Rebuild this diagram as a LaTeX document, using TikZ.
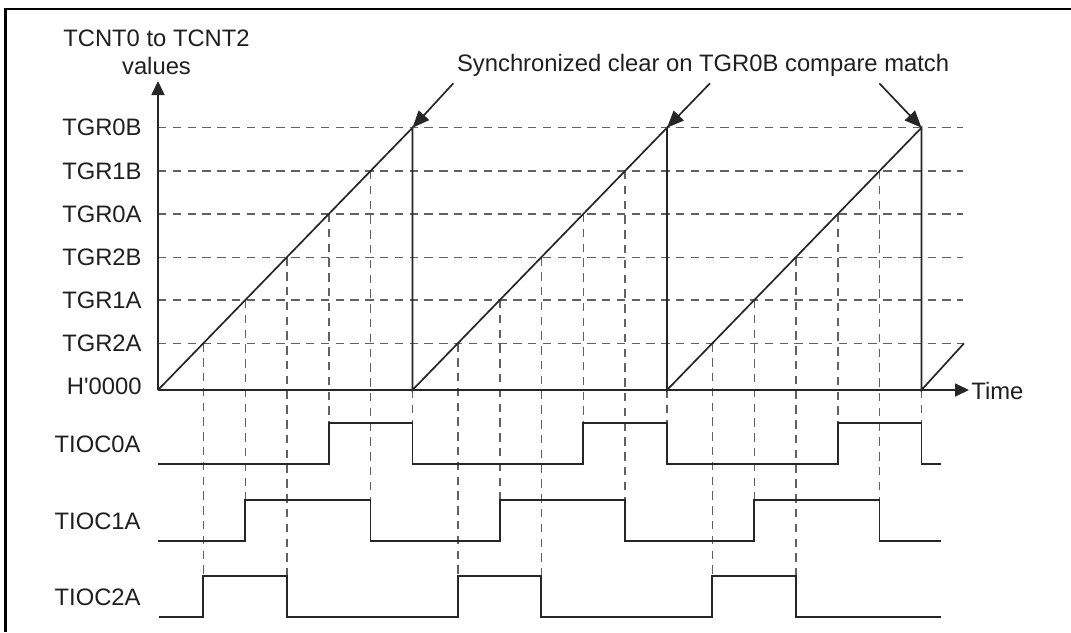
\documentclass[tikz,border=0pt]{standalone}
\usepackage{fontspec}
\setmainfont{Liberation Sans}
\usetikzlibrary{arrows.meta}
\begin{document}
\begin{tikzpicture}[x=0.5pt,y=-0.5pt,
  lbl/.style={font=\fontsize{11.9}{14}\selectfont, inner sep=0pt, text=black!88},
  gridline/.style={draw=black!62, line width=0.7pt, dash pattern=on 4.2pt off 3.2pt},
  sig/.style={draw=black!85, line width=0.85pt},
  tip/.style={-{Triangle[length=7pt,width=6.5pt]}},
  bigtip/.style={-{Triangle[length=8.5pt,width=7pt]}},
  frame/.style={draw=black, line width=1.1pt}]
\useasboundingbox (0,0) rectangle (1071,632);
% frame
\draw[frame] (5.5,632) -- (5.5,9) -- (1071,9);

% level coordinates
\def\yB{127.7}\def\yRB{171}\def\yOA{214}\def\yTB{257.3}\def\yRA{300}\def\yTA{343.3}\def\yZ{390}
% horizontal dashed grid
\foreach \yy in {\yB,\yRB,\yOA,\yTB,\yRA,\yTA}
  \draw[gridline] (158,\yy) -- (963,\yy);

% vertical dashed lines
\foreach \s in {158,412.5,667}{
  \draw[gridline] (\s+45.3,\yTA) -- (\s+45.3,576.3);
  \draw[gridline] (\s+87.3,\yRA) -- (\s+87.3,500);
  \draw[gridline] (\s+128.8,\yTB) -- (\s+128.8,576.3);
  \draw[gridline] (\s+170.8,\yOA) -- (\s+170.8,423.3);
  \draw[gridline] (\s+212.5,\yRB) -- (\s+212.5,500);
  \draw[gridline] (\s+254.5,\yZ) -- (\s+254.5,423.3);
}

% axes
\coordinate (O) at (158,\yZ);
\coordinate (ytop) at (158,81);
\coordinate (xend) at (969,\yZ);
\draw[sig,tip] (O) -- (ytop);
\draw[sig,tip] (O) -- (xend);
\node[lbl,anchor=west] (time) at (971,\yZ+1) {Time};

% axis title
\node[lbl,anchor=base] (yt1) at (156.5,46.7) {TCNT0 to TCNT2};
\node[lbl,anchor=base] (yt2) at (156.5,74.5) {values};

% level labels
\node[lbl,anchor=east] (l1) at (142,\yB) {TGR0B};
\node[lbl,anchor=east] (l2) at (142,\yRB) {TGR1B};
\node[lbl,anchor=east] (l3) at (142,\yOA) {TGR0A};
\node[lbl,anchor=east] (l4) at (142,\yTB) {TGR2B};
\node[lbl,anchor=east] (l5) at (142,\yRA) {TGR1A};
\node[lbl,anchor=east] (l6) at (142,\yTA) {TGR2A};
\node[lbl,anchor=east] (l7) at (142,\yZ-4) {H\textquotesingle 0000};

% sawtooth
\coordinate (p1) at (412.5,\yB);
\coordinate (p2) at (667,\yB);
\coordinate (p3) at (921.5,\yB);
\draw[sig] (O) -- (p1) -- (412.5,\yZ) -- (p2) -- (667,\yZ) -- (p3) -- (921.5,\yZ) -- (964,\yTA);

% annotation
\node[lbl,anchor=base west] (ann) at (456.7,71.7) {Synchronized clear on TGR0B compare match};
\coordinate (a1) at (453.3,83.3);
\coordinate (a2) at (710,83.3);
\coordinate (a3) at (879.3,83.3);
\draw[sig,bigtip] (a1) -- (p1);
\draw[sig,bigtip] (a2) -- (p2);
\draw[sig,bigtip] (a3) -- (p3);

% waveforms
\node[lbl,anchor=east] (w0) at (141,444) {TIOC0A};
\node[lbl,anchor=east] (w1) at (141,521) {TIOC1A};
\node[lbl,anchor=east] (w2) at (141,597) {TIOC2A};
\def\hA{423.3}\def\lA{464.3}
\draw[sig] (158,\lA) -| (328.8,\hA) -| (412.5,\lA) -| (583.3,\hA) -| (667,\lA) -| (837.8,\hA) -| (921.5,\lA) -- (941,\lA);
\def\hB{500}\def\lB{541}
\draw[sig] (158,\lB) -| (245.3,\hB) -| (370.5,\lB) -| (499.8,\hB) -| (625,\lB) -| (754.3,\hB) -| (879.5,\lB) -- (941,\lB);
\def\hC{576.3}\def\lC{616.7}
\draw[sig] (159,\lC) -| (203.3,\hC) -| (286.8,\lC) -| (457.8,\hC) -| (541.3,\lC) -| (712.3,\hC) -| (795.8,\lC) -- (941,\lC);
\end{tikzpicture}
\end{document}
